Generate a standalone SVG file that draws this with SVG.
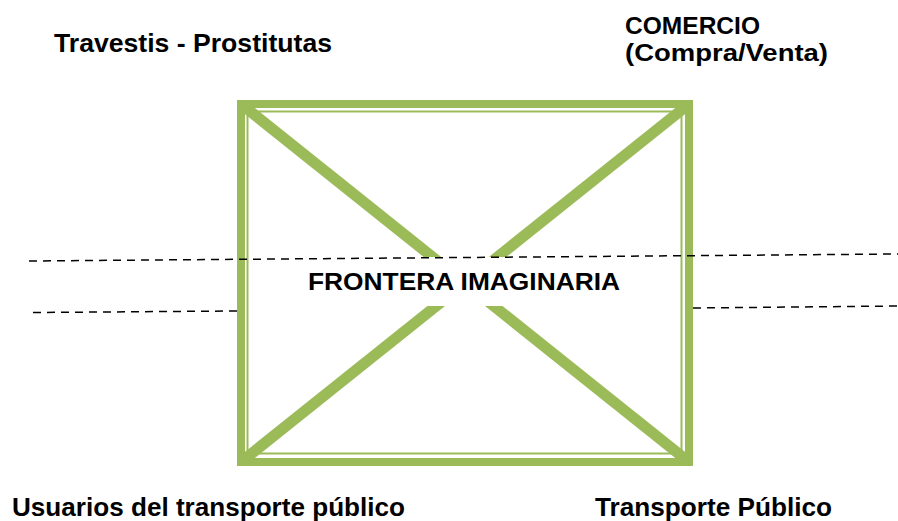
<svg xmlns="http://www.w3.org/2000/svg" width="898" height="521" viewBox="0 0 898 521">
<style>
.lbl{font-family:"Liberation Sans",Arial,sans-serif;font-weight:bold;fill:#000;}
.frame{fill:none;stroke:#9BBB59;}
.diag{stroke:#9BBB59;stroke-width:11;}
.dash{stroke:#000;stroke-width:1.5;stroke-dasharray:8 6;fill:none;}
</style>
<rect width="898" height="521" fill="#fff"/>
<g id="box">
<rect class="frame" x="241" y="104" width="448" height="358" stroke-width="8"/>
<rect class="frame" x="247.5" y="111.5" width="434" height="342" stroke-width="2"/>
<line class="diag" x1="241" y1="104" x2="689" y2="462"/>
<line class="diag" x1="689" y1="104" x2="241" y2="462"/>
<rect x="252" y="257" width="426" height="49" fill="#fff"/>
</g>
<g id="connectors">
<line class="dash" x1="29" y1="261" x2="898" y2="254"/>
<line class="dash" x1="33" y1="312.5" x2="237" y2="311"/>
<line class="dash" x1="693" y1="308" x2="898" y2="306"/>
</g>
<g id="label-frontera"><text class="lbl" x="308" y="290" font-size="24" textLength="312" lengthAdjust="spacingAndGlyphs">FRONTERA IMAGINARIA</text></g>
<g id="label-travestis"><text class="lbl" x="54" y="52" font-size="25" textLength="278" lengthAdjust="spacingAndGlyphs">Travestis - Prostitutas</text></g>
<g id="label-comercio"><text class="lbl" x="625" y="34" font-size="24" textLength="135" lengthAdjust="spacingAndGlyphs">COMERCIO</text>
<text class="lbl" x="625" y="61" font-size="24" textLength="203" lengthAdjust="spacingAndGlyphs">(Compra/Venta)</text></g>
<g id="label-usuarios"><text class="lbl" x="12" y="516" font-size="25" textLength="393" lengthAdjust="spacingAndGlyphs">Usuarios del transporte público</text></g>
<g id="label-transporte"><text class="lbl" x="595" y="516" font-size="25" textLength="237" lengthAdjust="spacingAndGlyphs">Transporte Público</text></g>
</svg>
